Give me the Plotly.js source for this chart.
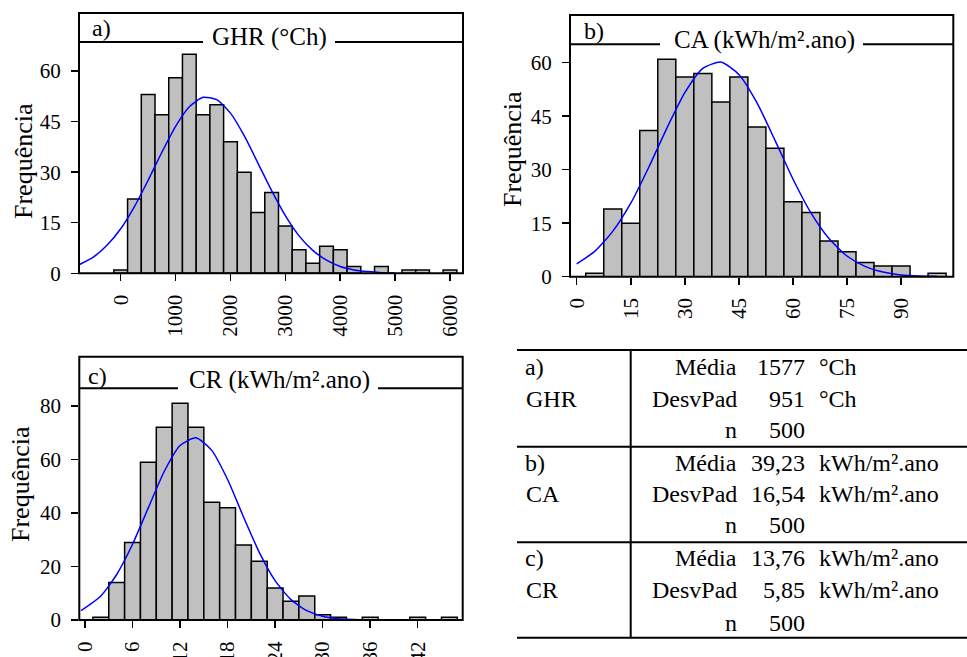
<!DOCTYPE html>
<html>
<head>
<meta charset="utf-8">
<script src="https://cdn.plot.ly/plotly-3.0.1.min.js"></script>
<style>html,body{margin:0;padding:0;background:#fff;}#chart{width:967px;height:657px;}</style>
</head>
<body>
<div id="chart"></div>
<script>
// ---- Data ----
// a) GHR (°Ch), bin width 250
const ghrBins   = [0,250,500,750,1000,1250,1500,1750,2000,2250,2500,2750,3000,3250,3500,3750,4000,4250,4750,5250,5500,6000];
const ghrCounts = [1,22,53,47,58,65,47,50,39,30,18,24,14,7,3,8,7,2,2,1,1,1];
const ghrCurveX = [-750,-500,-250,0,250,500,750,1000,1250,1500,1750,2000,2250,2500,2750,3000,3250,3500,3750,4000,4250,4500,4750,5000];
const ghrCurveY = [2.6,4.8,8.3,13.2,19.8,27.6,35.9,43.6,49.4,52.2,51.5,47.5,40.8,32.7,24.5,17.1,11.1,6.8,3.9,2.0,1.0,0.5,0.2,0.1];
const ghrXTicks = [0,1000,2000,3000,4000,5000,6000];
const ghrYTicks = [0,15,30,45,60];

// b) CA (kWh/m².ano), bin width 5
const caBins   = [5,10,15,20,25,30,35,40,45,50,55,60,65,70,75,80,85,90,100];
const caCounts = [1,19,15,41,61,56,57,49,56,42,36,21,18,10,7,4,3,3,1];
const caCurveX = [0,5,10,15,20,25,30,35,40,45,50,55,60,65,70,75,80,85,90,95,100];
const caCurveY = [3.6,7.1,12.7,20.6,30.7,41.6,51.6,58.4,60.2,56.7,48.8,38.3,27.4,17.9,10.7,5.8,2.9,1.3,0.5,0.2,0.1];
const caXTicks = [0,15,30,45,60,75,90];
const caYTicks = [0,15,30,45,60];

// c) CR (kWh/m².ano), bin width 2
const crBins   = [2,4,6,8,10,12,14,16,18,20,22,24,26,28,30,32,36,42,46];
const crCounts = [1,14,29,59,72,81,72,44,42,28,22,12,7,9,2,1,1,1,1];
const crCurveX = [-0.5,2,4,6,8,10,12,14,16,18,20,22,24,26,28,30,32,34,36];
const crCurveY = [3.5,9.0,17.0,28.3,42.0,55.5,65.2,68.1,63.4,52.5,38.6,25.3,14.7,7.6,3.5,1.4,0.5,0.2,0.05];
const crXTicks = [0,6,12,18,24,30,36,42];
const crYTicks = [0,20,40,60,80];

const panelLetters = ['a)','b)','c)'];
const panelTitles  = ['GHR (°Ch)','CA (kWh/m².ano)','CR (kWh/m².ano)'];
const yLabel = 'Frequência';

// summary table
const tblGroups = ['a)','b)','c)'];
const tblNames  = ['GHR','CA','CR'];
const tblStats  = ['Média','DesvPad','n'];
const tblValues = [['1577','951','500'],['39,23','16,54','500'],['13,76','5,85','500']];
const tblUnits  = [['°Ch','°Ch',''],['kWh/m².ano','kWh/m².ano',''],['kWh/m².ano','kWh/m².ano','']];

// ---- Layout helpers (pixel -> paper) ----
const W = 967, H = 657;
const px = x => x / W;
const py = y => 1 - y / H;
const FONT = 'Liberation Serif, Times New Roman, serif';

const barStyle = {color:'#c0c0c0', line:{color:'#000', width:1.5}};
const curveStyle = {color:'#0000ff', width:1.5, shape:'spline', smoothing:0.6};

const traces = [
  {type:'bar', x:ghrBins, y:ghrCounts, width:250, marker:barStyle, xaxis:'x', yaxis:'y', hoverinfo:'x+y'},
  {type:'scatter', mode:'lines', x:ghrCurveX, y:ghrCurveY, line:curveStyle, xaxis:'x', yaxis:'y'},
  {type:'bar', x:caBins, y:caCounts, width:5, marker:barStyle, xaxis:'x2', yaxis:'y2'},
  {type:'scatter', mode:'lines', x:caCurveX, y:caCurveY, line:curveStyle, xaxis:'x2', yaxis:'y2'},
  {type:'bar', x:crBins, y:crCounts, width:2, marker:barStyle, xaxis:'x3', yaxis:'y3'},
  {type:'scatter', mode:'lines', x:crCurveX, y:crCurveY, line:curveStyle, xaxis:'x3', yaxis:'y3'}
];

function xAxis(dom, range, ticks, anchor){
  return {domain:dom, range:range, anchor:anchor, tickvals:ticks, ticktext:ticks.map(String),
    tickangle:-90, ticks:'outside', ticklen:7, tickwidth:1.5, tickcolor:'#000',
    showgrid:false, zeroline:false, showline:false, fixedrange:true,
    tickfont:{family:FONT, size:21, color:'#000'}, ticklabelstandoff:5};
}
function yAxis(dom, range, ticks, anchor){
  return {domain:dom, range:range, anchor:anchor, tickvals:ticks, ticktext:ticks.map(String),
    ticks:'outside', ticklen:7, tickwidth:1.5, tickcolor:'#000',
    showgrid:false, zeroline:false, showline:false, fixedrange:true,
    tickfont:{family:FONT, size:21, color:'#000'}, ticklabelstandoff:6};
}

// panel geometry in pixels: [left, right, boxTop, stripY, axisY]
const panels = [
  {l:79,   r:463,   top:13,    strip:42,    axis:273.3, gap:[203,335]},
  {l:570,  r:953.3, top:15,    strip:44.3,  axis:276.7, gap:[660,863]},
  {l:79.3, r:462.7, top:356.7, strip:388.3, axis:620,   gap:[178,378]}
];

const shapes = [];
panels.forEach(p => {
  shapes.push({type:'rect', xref:'paper', yref:'paper', x0:px(p.l), x1:px(p.r), y0:py(p.axis), y1:py(p.top),
    line:{color:'#000', width:2}, layer:'above'});
  shapes.push({type:'line', xref:'paper', yref:'paper', x0:px(p.l), x1:px(p.gap[0]), y0:py(p.strip), y1:py(p.strip),
    line:{color:'#000', width:2}});
  shapes.push({type:'line', xref:'paper', yref:'paper', x0:px(p.gap[1]), x1:px(p.r), y0:py(p.strip), y1:py(p.strip),
    line:{color:'#000', width:2}});
});

// table lines
const tblTop = 350, tblLines = [446.7, 542.3, 637.7];
shapes.push({type:'line', xref:'paper', yref:'paper', x0:px(517), x1:px(967), y0:py(tblTop), y1:py(tblTop), line:{color:'#000', width:2}});
tblLines.forEach(y => shapes.push({type:'line', xref:'paper', yref:'paper', x0:px(517), x1:px(967), y0:py(y), y1:py(y), line:{color:'#000', width:2}}));
shapes.push({type:'line', xref:'paper', yref:'paper', x0:px(630.7), x1:px(630.7), y0:py(tblTop), y1:py(637.7), line:{color:'#000', width:2}});

const annotations = [];
const ann = (text, x, y, xanchor, size, extra) => Object.assign({text:text, xref:'paper', yref:'paper',
  x:px(x), y:py(y), xanchor:xanchor, yanchor:'middle', showarrow:false,
  font:{family:FONT, size:size, color:'#000'}}, extra||{});

// panel letters & titles
const letterPos = [[90,28],[581.7,31],[86,376]];
const titlePos  = [[269,37],[764,40],[279,380]];
panelLetters.forEach((t,i) => annotations.push(ann(t, letterPos[i][0], letterPos[i][1], 'left', 24)));
panelTitles.forEach((t,i) => annotations.push(ann(t, titlePos[i][0], titlePos[i][1], 'center', 25)));

// y labels
const yLabPos = [[23,161],[512,149],[20,484]];
yLabPos.forEach(p => annotations.push(ann(yLabel, p[0], p[1], 'center', 26, {textangle:-90})));

// table text
const rowY = [[366.7,399.3,430],[463.3,494.3,525],[558.3,590,622.7]];
for (let g = 0; g < 3; g++) {
  annotations.push(ann(tblGroups[g], 523, rowY[g][0], 'left', 24));
  annotations.push(ann(tblNames[g], 524, rowY[g][1], 'left', 24));
  for (let r = 0; r < 3; r++) {
    annotations.push(ann(tblStats[r], 738.5, rowY[g][r], 'right', 24));
    annotations.push(ann(tblValues[g][r], 806.7, rowY[g][r], 'right', 24));
    if (tblUnits[g][r]) annotations.push(ann(tblUnits[g][r], 817, rowY[g][r], 'left', 24));
  }
}

const layout = {
  width:W, height:H, margin:{l:0,r:0,t:0,b:0,pad:0},
  paper_bgcolor:'#fff', plot_bgcolor:'rgba(0,0,0,0)',
  showlegend:false, bargap:0, hovermode:false,
  xaxis:  xAxis([px(79),px(463)], [-760,6237], ghrXTicks, 'y'),
  yaxis:  yAxis([py(273.3),py(42)], [0,68.6], ghrYTicks, 'x'),
  xaxis2: xAxis([px(570),px(953.3)], [-1.86,104.5], caXTicks, 'y2'),
  yaxis2: yAxis([py(276.7),py(44.3)], [0,65.16], caYTicks, 'x2'),
  xaxis3: xAxis([px(79.3),px(462.7)], [-0.72,47.68], crXTicks, 'y3'),
  yaxis3: yAxis([py(620),py(388.3)], [0,86.6], crYTicks, 'x3'),
  shapes:shapes, annotations:annotations,
  font:{family:FONT, color:'#000'}
};

Plotly.newPlot('chart', traces, layout, {staticPlot:true, displayModeBar:false});
</script>
</body>
</html>
